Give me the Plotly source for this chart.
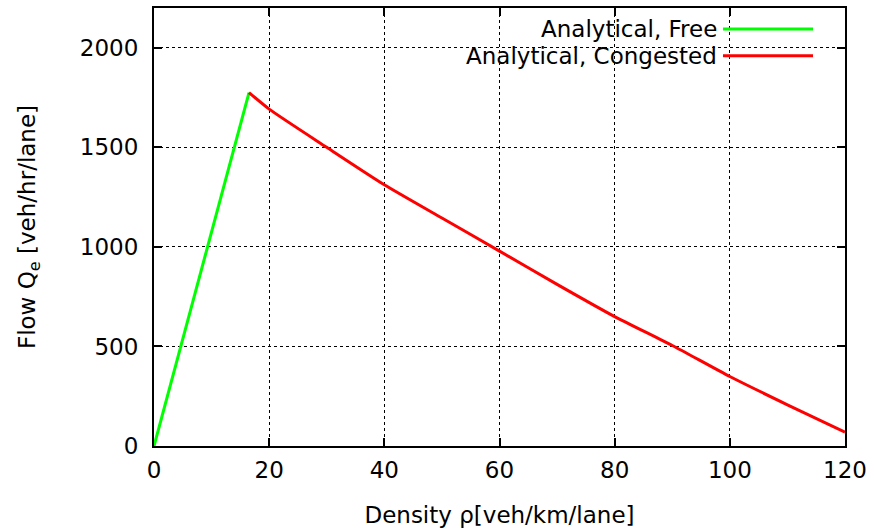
import plotly.graph_objects as go

# Data
free_density = [0, 16.5]
free_flow = [0, 1775]
cong_density = [16.5, 20, 30, 40, 50, 60, 70, 80, 90, 100, 110, 120]
cong_flow = [1775, 1692, 1500, 1312, 1145, 979, 812, 650, 505, 349, 207, 70]
legend_names = ["Analytical, Free", "Analytical, Congested"]
colors = ["#00ff00", "#ff0000"]

FONT = "DejaVu Sans"
FS = 23

fig = go.Figure()
fig.add_trace(go.Scatter(x=free_density, y=free_flow, mode="lines",
                         line=dict(color=colors[0], width=3), showlegend=False))
fig.add_trace(go.Scatter(x=cong_density, y=cong_flow, mode="lines",
                         line=dict(color=colors[1], width=3, shape="spline", smoothing=0.6),
                         showlegend=False))

# Custom gnuplot-style legend (text left, sample line right)
fig.add_shape(type="rect", xref="paper", yref="paper", x0=0.331, x1=0.975, y0=0.861, y1=0.998,
              fillcolor="white", line=dict(width=0), layer="between")
rows_y = [0.952, 0.891]
for name, col, yy in zip(legend_names, colors, rows_y):
    fig.add_annotation(xref="paper", yref="paper", x=0.8177, y=yy, text=name, showarrow=False,
                       xanchor="right", yanchor="middle", font=dict(family=FONT, size=FS, color="black"))
    fig.add_shape(type="line", xref="paper", yref="paper", x0=0.8234, x1=0.9537, y0=yy, y1=yy,
                  line=dict(color=col, width=3))

axis_common = dict(
    showline=True, linecolor="black", linewidth=2, mirror="ticks",
    ticks="inside", ticklen=8, tickwidth=2, tickcolor="black",
    showgrid=True, gridcolor="black", gridwidth=1, griddash="dot",
    zeroline=False, tickfont=dict(family=FONT, size=FS, color="black"),
)

fig.update_xaxes(range=[0, 120], tickvals=[0, 20, 40, 60, 80, 100, 120],
                 title=dict(text="Density ρ[veh/km/lane]", font=dict(family=FONT, size=FS, color="black"), standoff=25),
                 ticklabelstandoff=2, **axis_common)
fig.update_yaxes(range=[0, 2200], tickvals=[0, 500, 1000, 1500, 2000],
                 title=dict(text="Flow Q<sub>e</sub> [veh/hr/lane]", font=dict(family=FONT, size=FS, color="black"), standoff=38),
                 ticklabelstandoff=9, **axis_common)

fig.update_layout(
    width=874, height=531,
    margin=dict(l=154, r=29, t=6, b=85),
    plot_bgcolor="white", paper_bgcolor="white",
    font=dict(family=FONT, size=FS, color="black"),
    showlegend=False,
)

fig.write_html("out.html")
